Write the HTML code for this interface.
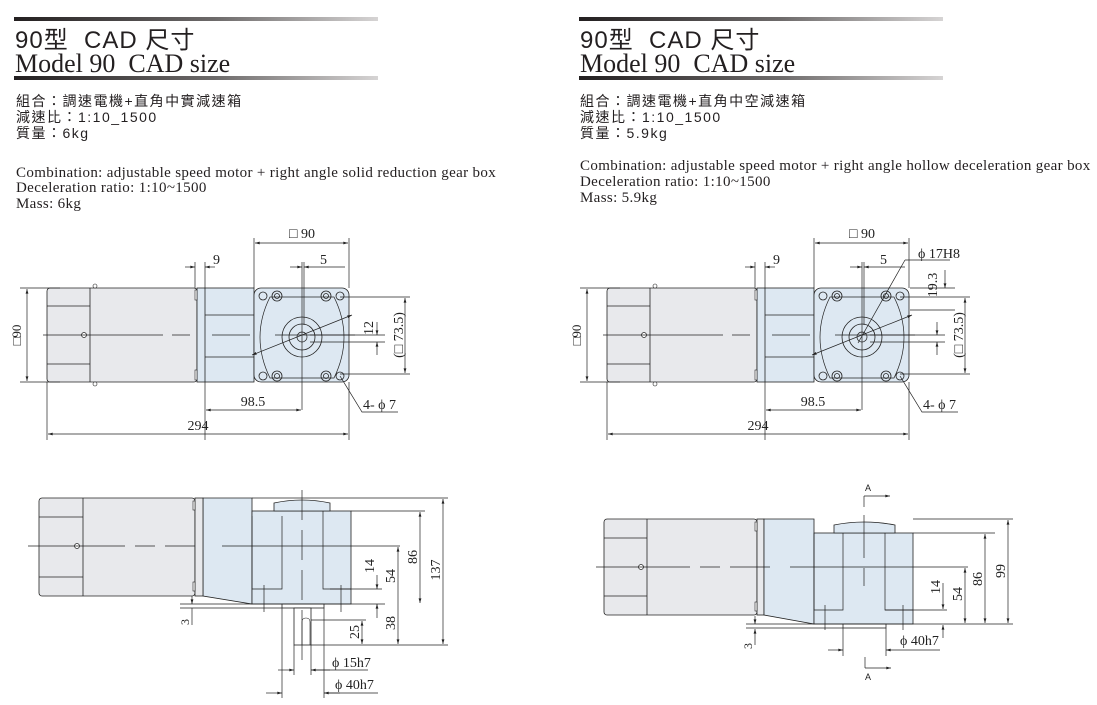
<!DOCTYPE html>
<html><head><meta charset="utf-8"><style>
html,body{margin:0;padding:0;background:#fff;}
svg{display:block}
.cn{font-family:"Liberation Sans","Noto Sans CJK TC",sans-serif}
.sr{font-family:"Liberation Serif",serif}
</style></head><body>
<svg width="1097" height="705" viewBox="0 0 1097 705" xmlns="http://www.w3.org/2000/svg">
<defs>
<linearGradient id="bar" x1="0" x2="1"><stop offset="0" stop-color="#231f20"/><stop offset="0.55" stop-color="#6d6a6a"/><stop offset="1" stop-color="#d6d4d4"/></linearGradient>
<marker id="ar" viewBox="0 0 10 6" refX="10" refY="3" markerWidth="7" markerHeight="4" orient="auto-start-reverse"><path d="M0,0L10,3L0,6z" fill="#222"/></marker>
<g id="face">
<rect x="254" y="288" width="95" height="94" rx="7" fill="#dde8f2" stroke="#222" stroke-width="0.8"/>
<path d="M270,297 Q250,337 270,378 L334,378 Q354,337 334,297 Z" fill="none" stroke="#222" stroke-width="0.7"/>
<circle cx="302" cy="337" r="20" fill="none" stroke="#222" stroke-width="0.8"/>
<circle cx="302" cy="337" r="13" fill="none" stroke="#222" stroke-width="0.8"/>
<circle cx="302" cy="337" r="5" fill="none" stroke="#222" stroke-width="0.7"/>
<g fill="none" stroke="#222" stroke-width="0.8">
<circle cx="263" cy="296" r="4"/><circle cx="340" cy="296" r="4"/><circle cx="263" cy="376" r="4"/><circle cx="340" cy="376" r="4"/>
<circle cx="277" cy="296" r="5"/><circle cx="326" cy="296" r="5"/><circle cx="277" cy="376" r="5"/><circle cx="326" cy="376" r="5"/>
<circle cx="277" cy="296" r="2.5"/><circle cx="326" cy="296" r="2.5"/><circle cx="277" cy="376" r="2.5"/><circle cx="326" cy="376" r="2.5"/>
</g>
</g>
<g id="topbase">
<rect x="47" y="288" width="150" height="94" rx="3" fill="#e8e9ec" stroke="#222" stroke-width="0.8"/>
<line x1="90" y1="288" x2="90" y2="382" stroke="#222" stroke-width="0.8"/>
<line x1="47" y1="306" x2="90" y2="306" stroke="#222" stroke-width="0.7"/>
<line x1="47" y1="364" x2="90" y2="364" stroke="#222" stroke-width="0.7"/>
<circle cx="84" cy="335" r="2.5" fill="#fff" stroke="#222" stroke-width="0.7"/>
<circle cx="95" cy="286" r="2" fill="#fff" stroke="#222" stroke-width="0.6"/><circle cx="95" cy="384" r="2" fill="#fff" stroke="#222" stroke-width="0.6"/>
<rect x="197" y="288" width="57" height="94" fill="#dde8f2" stroke="#222" stroke-width="0.8"/>
<line x1="205" y1="288" x2="205" y2="382" stroke="#222" stroke-width="0.8"/>
<rect x="195" y="290" width="2" height="10" fill="#fff" stroke="#222" stroke-width="0.6"/><rect x="195" y="370" width="2" height="10" fill="#fff" stroke="#222" stroke-width="0.6"/>
<line x1="205" y1="315" x2="254" y2="315" stroke="#222" stroke-width="0.7"/>
<line x1="205" y1="357" x2="254" y2="357" stroke="#222" stroke-width="0.7"/>
<use href="#face"/>
<g stroke="#222" stroke-width="0.7" fill="none">
<path d="M43,335H163 M172,335H190 M212,335H250 M275,335H355"/>
<path d="M302,262V350 M304,262V325 M302,345V410"/>
<path d="M254,288V238 M349,288V238 M195,288V262 M205,288V262 M205,382V440 M47,382V440 M349,382V440"/>
<path d="M20,288H60 M20,382H60"/>
<line x1="255" y1="243" x2="348" y2="243" marker-start="url(#ar)" marker-end="url(#ar)"/>
<line x1="185" y1="267" x2="195" y2="267" marker-end="url(#ar)"/><line x1="215" y1="267" x2="205" y2="267" marker-end="url(#ar)"/>
<line x1="290" y1="267" x2="302" y2="267" marker-end="url(#ar)"/><line x1="345" y1="267" x2="304" y2="267" marker-end="url(#ar)"/>
<line x1="27" y1="289" x2="27" y2="381" marker-start="url(#ar)" marker-end="url(#ar)"/>
<line x1="206" y1="410" x2="301" y2="410" marker-start="url(#ar)" marker-end="url(#ar)"/>
<line x1="48" y1="434" x2="348" y2="434" marker-start="url(#ar)" marker-end="url(#ar)"/>
<path d="M340,297H410 M340,374H410 M310,335H385 M310,342H385"/>
<line x1="405" y1="298" x2="405" y2="373" marker-start="url(#ar)" marker-end="url(#ar)"/>
<line x1="377" y1="322" x2="377" y2="335" marker-end="url(#ar)"/><line x1="377" y1="355" x2="377" y2="342" marker-end="url(#ar)"/>
<line x1="252" y1="355" x2="352" y2="315" marker-start="url(#ar)" marker-end="url(#ar)"/>
<path d="M340,376L362,412H398"/>
</g>
<g class="sr" font-size="14" fill="#222">
<text x="302" y="238" text-anchor="middle">□ 90</text>
<text x="213" y="264">9</text><text x="320" y="264">5</text>
<text x="253" y="406" text-anchor="middle">98.5</text>
<text x="198" y="430" text-anchor="middle">294</text>
<text x="363" y="409">4- ϕ 7</text>
<text transform="translate(21,335) rotate(-90)" text-anchor="middle" font-size="13">□90</text>
<text transform="translate(403,335) rotate(-90)" text-anchor="middle">(□ 73.5)</text>
</g>
</g>
</defs>

<!-- headers -->
<rect x="14" y="17" width="364" height="4" fill="url(#bar)"/>
<rect x="14" y="76" width="364" height="4" fill="url(#bar)"/>
<rect x="579" y="17" width="364" height="4" fill="url(#bar)"/>
<rect x="579" y="76" width="364" height="4" fill="url(#bar)"/>
<g fill="#231f20">
<text class="cn" x="15" y="48" font-size="24" letter-spacing="1" xml:space="preserve">90型  CAD 尺寸</text>
<text class="sr" x="15" y="72" font-size="26" xml:space="preserve">Model 90  CAD size</text>
<text class="cn" x="580" y="48" font-size="24" letter-spacing="1" xml:space="preserve">90型  CAD 尺寸</text>
<text class="sr" x="580" y="72" font-size="26" xml:space="preserve">Model 90  CAD size</text>
<g class="cn" font-size="14" letter-spacing="1.5">
<text x="16" y="106">組合：調速電機+直角中實減速箱</text><text x="16" y="122">減速比：1:10_1500</text><text x="16" y="138">質量：6kg</text>
<text x="580" y="106">組合：調速電機+直角中空減速箱</text><text x="580" y="122">減速比：1:10_1500</text><text x="580" y="138">質量：5.9kg</text>
</g>
<g class="sr" font-size="15" letter-spacing="0.35">
<text x="16" y="177">Combination: adjustable speed motor + right angle solid reduction gear box</text>
<text x="16" y="192">Deceleration ratio: 1:10~1500</text><text x="16" y="208">Mass: 6kg</text>
<text x="580" y="170">Combination: adjustable speed motor + right angle hollow deceleration gear box</text>
<text x="580" y="186">Deceleration ratio: 1:10~1500</text><text x="580" y="202">Mass: 5.9kg</text>
</g></g>

<use href="#topbase"/>
<use href="#topbase" transform="translate(560,0)"/>
<text class="sr" transform="translate(373,328) rotate(-90)" text-anchor="middle" font-size="14" fill="#222">12</text>
<g stroke="#222" stroke-width="0.7" fill="none">
<line x1="905" y1="260" x2="858" y2="343"/><path d="M905,260H950"/>
<path d="M910,288H955 M910,310H955"/>
<line x1="945" y1="270" x2="945" y2="288" marker-end="url(#ar)"/>
</g>
<text class="sr" x="918" y="258" font-size="14" fill="#222">ϕ 17H8</text>
<text class="sr" transform="translate(937,285) rotate(-90)" text-anchor="middle" font-size="14" fill="#222">19.3</text>

<!-- bottom left -->
<g stroke="#222" stroke-width="0.8">
<rect x="39" y="498" width="156" height="98" rx="3" fill="#e8e9ec"/>
<line x1="83" y1="498" x2="83" y2="596"/><path d="M39,517H83 M39,577H83" stroke-width="0.7"/>
<circle cx="77" cy="546" r="2.5" fill="#fff" stroke-width="0.7"/>
<path d="M203,498H252V604L203,596Z" fill="#dde8f2"/>
<rect x="195" y="498" width="8" height="98" fill="#e8e9ec"/>
<rect x="252" y="511" width="99" height="93" fill="#dde8f2"/>
<path d="M274,511V503Q302,497 330,503V511Z" fill="#dde8f2"/>
<rect x="193" y="501" width="2" height="9" fill="#fff" stroke-width="0.6"/><rect x="193" y="582" width="2" height="9" fill="#fff" stroke-width="0.6"/>
<path d="M252,516V589H282V516 M351,589H323V511" fill="none" stroke-width="0.7"/>
<rect x="282" y="604" width="42" height="4" fill="#fff"/>
<rect x="294" y="608" width="17" height="37" fill="#fff"/>
<path d="M302,645V622Q302,618 306,618Q310,618 310,622V645" fill="none" stroke-width="0.6"/>
</g>
<g stroke="#222" stroke-width="0.7" fill="none">
<path d="M28,546H125 M135,546H155 M165,546H195 M222,546H400 M302,490V520 M302,530V560 M302,570V600 M302,610V660"/>
<path d="M264,585V612 M341,585V612"/>
<path d="M180,604H385 M180,608H282 M351,511H425 M252,498H448 M311,645H448 M311,620H366 M282,608V698 M324,608V698 M294,645V675 M311,645V675 M330,589H382"/>
<line x1="443" y1="499" x2="443" y2="644" marker-start="url(#ar)" marker-end="url(#ar)"/>
<line x1="420" y1="512" x2="420" y2="603" marker-start="url(#ar)" marker-end="url(#ar)"/>
<line x1="398" y1="547" x2="398" y2="644" marker-start="url(#ar)" marker-end="url(#ar)"/>
<line x1="377" y1="575" x2="377" y2="589" marker-end="url(#ar)"/><line x1="377" y1="618" x2="377" y2="604" marker-end="url(#ar)"/>
<line x1="362" y1="621" x2="362" y2="644" marker-start="url(#ar)" marker-end="url(#ar)"/>
<line x1="192" y1="596" x2="192" y2="604" marker-end="url(#ar)"/><path d="M192,608V625"/>
<line x1="278" y1="670" x2="294" y2="670" marker-end="url(#ar)"/><line x1="330" y1="670" x2="311" y2="670" marker-end="url(#ar)"/>
<line x1="266" y1="693" x2="282" y2="693" marker-end="url(#ar)"/><line x1="340" y1="693" x2="324" y2="693" marker-end="url(#ar)"/>
<path d="M311,670H368 M324,693H378"/>
</g>
<g class="sr" font-size="14" fill="#222">
<text transform="translate(417,557) rotate(-90)" text-anchor="middle">86</text>
<text transform="translate(440,570) rotate(-90)" text-anchor="middle">137</text>
<text transform="translate(395,576) rotate(-90)" text-anchor="middle">54</text>
<text transform="translate(374,566) rotate(-90)" text-anchor="middle">14</text>
<text transform="translate(395,623) rotate(-90)" text-anchor="middle">38</text>
<text transform="translate(359,632) rotate(-90)" text-anchor="middle">25</text>
<text transform="translate(189,622) rotate(-90)" text-anchor="middle" font-size="12">3</text>
<text x="332" y="667">ϕ 15h7</text><text x="335" y="689">ϕ 40h7</text>
</g>

<!-- bottom right -->
<g stroke="#222" stroke-width="0.8">
<rect x="604" y="519" width="153" height="96" rx="3" fill="#e8e9ec"/>
<line x1="647" y1="519" x2="647" y2="615"/><path d="M604,538H647 M604,596H647" stroke-width="0.7"/>
<circle cx="641" cy="567" r="2.5" fill="#fff" stroke-width="0.7"/>
<rect x="757" y="519" width="7" height="96" fill="#e8e9ec"/>
<path d="M764,519H814V624L764,615Z" fill="#dde8f2"/>
<rect x="814" y="533" width="99" height="91" fill="#dde8f2"/>
<path d="M834,533V525Q864,519 895,525V533Z" fill="#dde8f2"/>
<rect x="755" y="522" width="2" height="9" fill="#fff" stroke-width="0.6"/><rect x="755" y="602" width="2" height="9" fill="#fff" stroke-width="0.6"/>
<path d="M814,533V610H843V533 M913,610H885V533" fill="none" stroke-width="0.7"/>
<rect x="843" y="624" width="43" height="4" fill="#fff"/>
</g>
<g stroke="#222" stroke-width="0.7" fill="none">
<path d="M596,567H690 M700,567H720 M730,567H770 M790,567H968 M864,515V558 M864,568V586"/>
<path d="M825,605V630 M903,605V630"/>
<path d="M746,624H1013 M746,628H843 M913,533H995 M913,519H1013 M885,610H947 M843,628V656 M886,628V656"/>
<line x1="1008" y1="520" x2="1008" y2="623" marker-start="url(#ar)" marker-end="url(#ar)"/>
<line x1="985" y1="534" x2="985" y2="623" marker-start="url(#ar)" marker-end="url(#ar)"/>
<line x1="965" y1="568" x2="965" y2="623" marker-start="url(#ar)" marker-end="url(#ar)"/>
<line x1="943" y1="583" x2="943" y2="609" marker-end="url(#ar)"/><line x1="943" y1="638" x2="943" y2="625" marker-end="url(#ar)"/>
<line x1="755" y1="616" x2="755" y2="624" marker-end="url(#ar)"/><line x1="755" y1="645" x2="755" y2="629" marker-end="url(#ar)"/>
<line x1="828" y1="650" x2="843" y2="650" marker-end="url(#ar)"/><line x1="940" y1="650" x2="886" y2="650" marker-end="url(#ar)"/>
<path d="M864,507V496"/><line x1="864" y1="496" x2="890" y2="496" marker-end="url(#ar)"/>
<path d="M865,657V668"/><line x1="865" y1="668" x2="891" y2="668" marker-end="url(#ar)"/>
</g>
<g class="sr" font-size="14" fill="#222">
<text transform="translate(1005,571) rotate(-90)" text-anchor="middle">99</text>
<text transform="translate(982,579) rotate(-90)" text-anchor="middle">86</text>
<text transform="translate(962,594) rotate(-90)" text-anchor="middle">54</text>
<text transform="translate(940,587) rotate(-90)" text-anchor="middle">14</text>
<text transform="translate(752,646) rotate(-90)" text-anchor="middle" font-size="12">3</text>
<text x="900" y="645">ϕ 40h7</text>
</g>
<g class="cn" font-size="9" fill="#222"><text x="865" y="491">A</text><text x="865" y="680">A</text></g>
</svg>
</body></html>
